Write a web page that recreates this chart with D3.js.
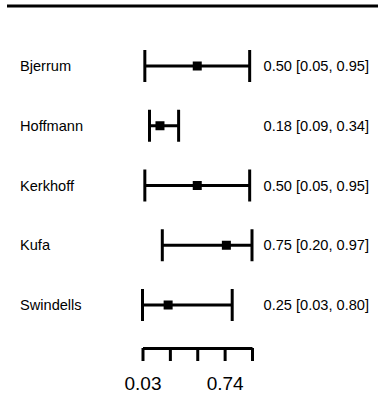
<!DOCTYPE html>
<html>
<head>
<meta charset="utf-8">
<script src="https://cdn.jsdelivr.net/npm/d3@7"></script>
<style>
  html, body { margin: 0; padding: 0; background: #fff; }
  text { font-family: "Liberation Sans", Arial, sans-serif; fill: #000; }
</style>
</head>
<body>
<svg id="chart"></svg>
<script>
// Forest plot - proportions with 95% CI
const studies = ["Bjerrum", "Hoffmann", "Kerkhoff", "Kufa", "Swindells"];
const estimates = [0.50, 0.18, 0.50, 0.75, 0.25];
const lower = [0.05, 0.09, 0.05, 0.20, 0.03];
const upper = [0.95, 0.34, 0.95, 0.97, 0.80];
const tickValues = [0.03, 0.265, 0.5, 0.735, 0.97];
const tickLabels = ["0.03", "", "", "0.74", ""];

const width = 379;
const height = 399;

const svg = d3.select("#chart")
    .attr("width", width)
    .attr("height", height);

const x = d3.scaleLinear()
    .domain([0.03, 0.97])
    .range([142.5, 252]);

const y = d3.scalePoint()
    .domain(studies)
    .range([66, 305]);

// 上の太線
svg.append("line")
    .attr("x1", 7).attr("x2", 378)
    .attr("y1", 6).attr("y2", 6)
    .attr("stroke", "#000")
    .attr("stroke-width", 3);

const rows = svg.append("g")
    .selectAll("g")
    .data(studies)
    .enter()
    .append("g")
    .attr("transform", d => `translate(0,${y(d)})`);

// 信頼区間
rows.append("line")
    .attr("x1", (d, i) => x(lower[i]))
    .attr("x2", (d, i) => x(upper[i]))
    .attr("stroke", "#000")
    .attr("stroke-width", 3);

// 端のバー
rows.append("line")
    .attr("x1", (d, i) => x(lower[i]))
    .attr("x2", (d, i) => x(lower[i]))
    .attr("y1", -16).attr("y2", 16)
    .attr("stroke", "#000")
    .attr("stroke-width", 3);

rows.append("line")
    .attr("x1", (d, i) => x(upper[i]))
    .attr("x2", (d, i) => x(upper[i]))
    .attr("y1", -16).attr("y2", 16)
    .attr("stroke", "#000")
    .attr("stroke-width", 3);

// 点推定
rows.append("rect")
    .attr("x", (d, i) => x(estimates[i]) - 4.5)
    .attr("y", -4.5)
    .attr("width", 9)
    .attr("height", 9)
    .attr("fill", "#000");

// 研究名
rows.append("text")
    .attr("x", 20)
    .attr("dy", "0.35em")
    .style("font-size", "14.6px")
    .text(d => d);

// 推定値 [CI]
rows.append("text")
    .attr("x", 369)
    .attr("dy", "0.35em")
    .attr("text-anchor", "end")
    .style("font-size", "14.6px")
    .text((d, i) => `${estimates[i].toFixed(2)} [${lower[i].toFixed(2)}, ${upper[i].toFixed(2)}]`);

// x軸
const axis = svg.append("g")
    .attr("transform", "translate(0,348)")
    .call(d3.axisBottom(x)
        .tickValues(tickValues)
        .tickFormat((d, i) => tickLabels[i])
        .tickSize(13)
        .tickSizeOuter(0)
        .tickPadding(16));

axis.select(".domain")
    .attr("stroke", "#000")
    .attr("stroke-width", 3);
axis.selectAll(".tick line")
    .attr("stroke", "#000")
    .attr("stroke-width", 3);
axis.selectAll(".tick text")
    .style("font-size", "19px")
    .style("font-family", "Liberation Sans, Arial, sans-serif")
    .attr("fill", "#000");
</script>
</body>
</html>
